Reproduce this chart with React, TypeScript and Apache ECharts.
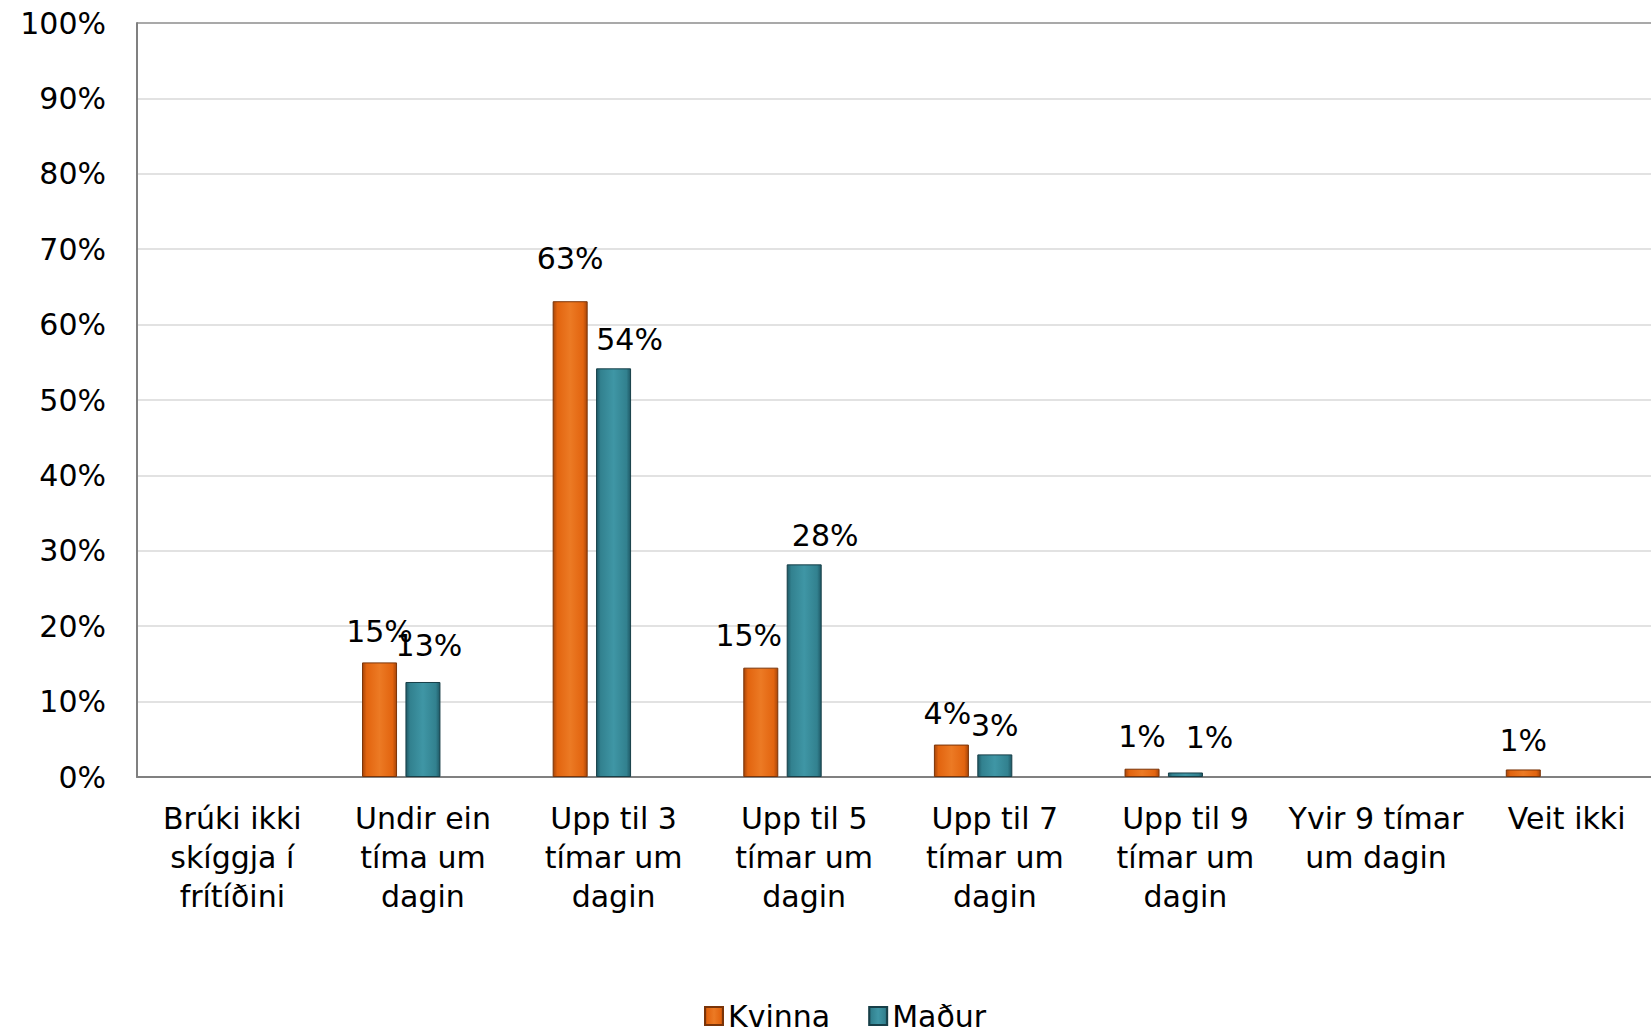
import React, { useEffect, useRef } from "react";
import * as echarts from "echarts";

const categories = [
  "Brúki ikki\nskíggja í\nfrítíðini",
  "Undir ein\ntíma um\ndagin",
  "Upp til 3\ntímar um\ndagin",
  "Upp til 5\ntímar um\ndagin",
  "Upp til 7\ntímar um\ndagin",
  "Upp til 9\ntímar um\ndagin",
  "Yvir 9 tímar\num dagin",
  "Veit ikki",
];
const kvinna: (number | null)[] = [null, 15.2, 63.1, 14.5, 4.3, 1.1, null, 1.0];
const madur: (number | null)[] = [null, 12.6, 54.2, 28.2, 3.0, 0.6, null, null];
const spacer: (number | null)[] = [null, null, null, null, null, null, null, null];
const yTicks = [0, 10, 20, 30, 40, 50, 60, 70, 80, 90, 100];

// label nudges (style only), mimicking the original's label placement
const kvinnaLabelShift: number[][] = [[0, 0], [0, -2], [0, -14], [-12, -3], [-4, -2], [0, -3], [0, 0], [0, 0]];
const madurLabelShift: number[][] = [[0, 0], [6, -7], [16, 0], [21, 0], [0, 0], [24, -6], [0, 0], [0, 0]];

const FONT = "DejaVu Sans";
const FS = 30;

function grad(dark: string, mid: string, light: string) {
  return new echarts.graphic.LinearGradient(0, 0, 1, 0, [
    { offset: 0, color: dark },
    { offset: 0.12, color: mid },
    { offset: 0.5, color: light },
    { offset: 0.88, color: mid },
    { offset: 1, color: dark },
  ]);
}

export default function App() {
  const ref = useRef<HTMLDivElement>(null);
  useEffect(() => {
    if (!ref.current) return;
    const chart = echarts.init(ref.current, null, { renderer: "svg" });
    const labelBase = {
      show: true,
      position: "top",
      distance: 14,
      color: "#000",
      fontFamily: FONT,
      fontSize: FS,
      lineHeight: 30,
      formatter: (p: any) => (p.value == null ? "" : Math.round(p.value) + "%"),
    };
    const withShift = (vals: (number | null)[], shifts: number[][]) =>
      vals.map((v, i) => ({ value: v, label: { offset: shifts[i] } }));
    const splitColors = yTicks.map((t) => (t === 100 ? "#8c8c8c" : "#d9d9d9"));
    chart.setOption({
      animation: false,
      backgroundColor: "#fff",
      grid: { left: 137, right: 0, top: 23, bottom: 257, containLabel: false },
      legend: {
        data: ["Kvinna", "Maður"],
        left: 704,
        top: 1001,
        padding: 0,
        icon: "rect",
        itemWidth: 18,
        itemHeight: 18,
        itemGap: 38,
        textStyle: { fontFamily: FONT, fontSize: FS, lineHeight: 30, color: "#000" },
      },
      xAxis: {
        type: "category",
        data: categories,
        axisLine: { show: true, lineStyle: { color: "#808080", width: 2 } },
        axisTick: { show: false },
        axisLabel: {
          interval: 0,
          margin: 22,
          color: "#000",
          fontFamily: FONT,
          fontSize: FS,
          lineHeight: 39,
          align: "center",
        },
      },
      yAxis: {
        type: "value",
        min: 0,
        max: 100,
        interval: 10,
        axisLine: { show: true, lineStyle: { color: "#808080", width: 2 } },
        axisTick: { show: false },
        splitLine: { show: true, lineStyle: { color: splitColors, width: 1.5 } },
        axisLabel: {
          formatter: "{value}%",
          margin: 31,
          color: "#000",
          fontFamily: FONT,
          fontSize: FS,
        },
      },
      series: [
        {
          name: "Kvinna",
          type: "bar",
          data: withShift(kvinna, kvinnaLabelShift),
          barWidth: 35,
          barGap: "24%",
          itemStyle: {
            color: grad("#a8460a", "#e2640f", "#ec7a24"),
            borderColor: "#7a3408",
            borderWidth: 1,
          },
          label: labelBase,
        },
        {
          name: "Maður",
          type: "bar",
          data: withShift(madur, madurLabelShift),
          barWidth: 35,
          barGap: "24%",
          itemStyle: {
            color: grad("#1f5966", "#32818f", "#3f96a5"),
            borderColor: "#173f48",
            borderWidth: 1,
          },
          label: labelBase,
        },
        {
          name: "spacer",
          type: "bar",
          data: spacer,
          barWidth: 35,
          barGap: "24%",
          silent: true,
          itemStyle: { color: "transparent" },
          label: { show: false },
        },
      ],
    });
    return () => chart.dispose();
  }, []);
  return (
    <div style={{ position: "fixed", left: 0, top: 0, width: 1651, height: 1034, overflow: "hidden", background: "#fff" }}>
      <div ref={ref} style={{ width: 1662, height: 1034 }} />
    </div>
  );
}
